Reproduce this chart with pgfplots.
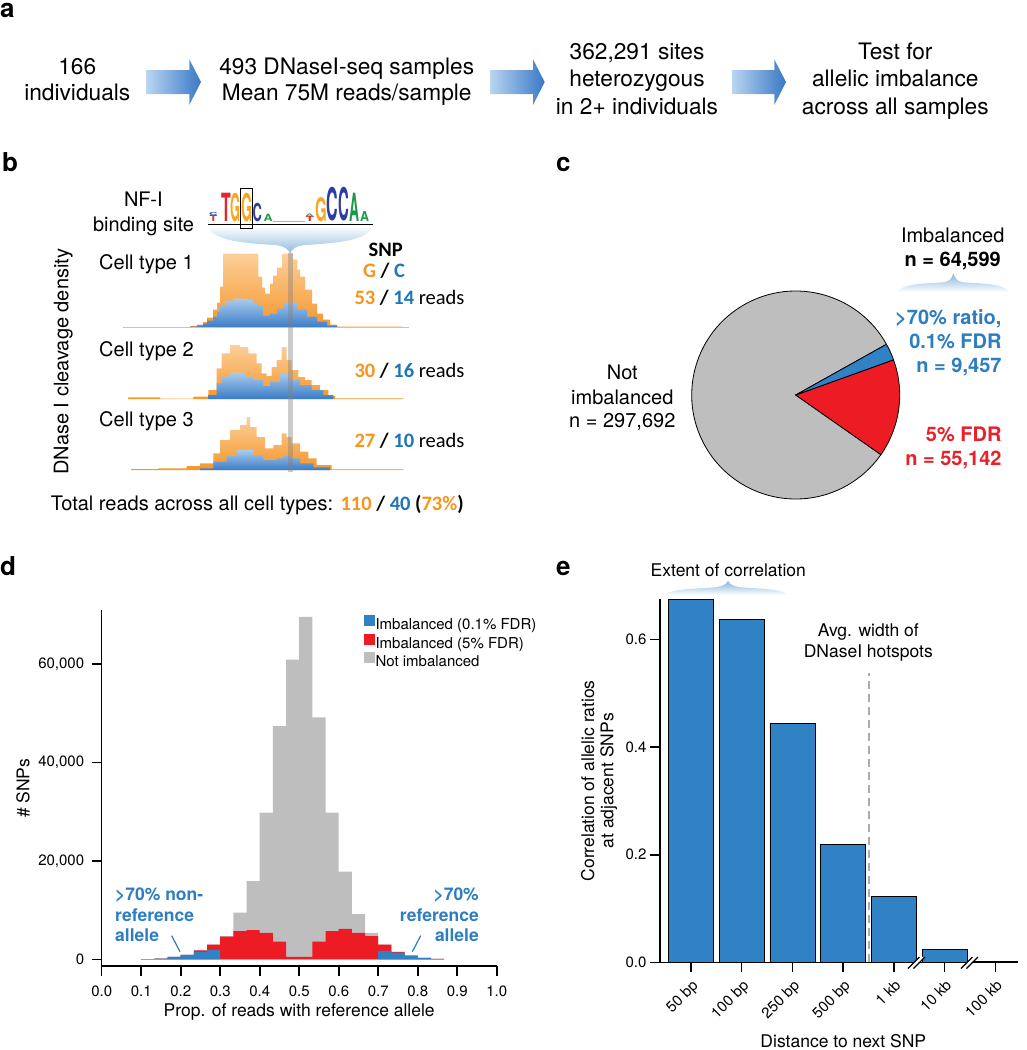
\documentclass[border=0pt]{standalone}
\usepackage{graphicx}
\usepackage{pgfplots}
\pgfplotsset{compat=1.18}
\usepackage{fontspec}
\setmainfont{TeX Gyre Heros}
\setsansfont{TeX Gyre Heros}
\newfontfamily\carl{Carlito}
\usetikzlibrary{shadings}
\definecolor{cblue}{HTML}{3182C4}
\definecolor{cred}{HTML}{ED1C24}
\definecolor{cgray}{HTML}{BEBEBE}
\definecolor{torange}{HTML}{F7941D}
\definecolor{tblue}{HTML}{2C7DC1}
\definecolor{tred}{HTML}{E8202A}
\definecolor{bnum}{HTML}{1D75BC}
\definecolor{arrL}{HTML}{B8D5F0}
\definecolor{arrR}{HTML}{3A78C6}
\definecolor{oTop}{HTML}{FCCF9A}
\definecolor{oBot}{HTML}{F5962A}
\definecolor{bTop}{HTML}{A8CBEC}
\definecolor{bBot}{HTML}{3B7CC7}
\definecolor{lT}{HTML}{E4262C}
\definecolor{lG}{HTML}{F6A623}
\definecolor{lC}{HTML}{2D3DA5}
\definecolor{lA}{HTML}{1C9A48}
\newcommand\fA{\fontsize{22.7}{27}\selectfont}
\newcommand\fB{\fontsize{20}{24}\selectfont}
\newcommand\fC{\carl\fontsize{20.5}{24}\selectfont}
\newcommand\fD{\fontsize{17.5}{21}\selectfont}
\newcommand\fT{\fontsize{15}{18}\selectfont}
\newcommand\flab{\fontsize{26}{30}\selectfont\bfseries}
\newcommand\LL[6]{\node[anchor=south west, inner sep=0pt, text=#4] at (#1,-#6) {\resizebox{#2pt}{#3pt}{\bfseries #5}};}
\newcommand\barrow[3]{\shade[left color=arrL, right color=arrR] (#1,-70) -- (#2,-70) -- (#2,-59.3) -- (#3,-82) -- (#2,-105) -- (#2,-94) -- (#1,-94) -- cycle;}
\pgfplotsset{trk/.style={hide axis, scale only axis, anchor=south west, width=290pt, height=80pt, xmin=120, xmax=410, ymin=0, ymax=80, clip=false}}

\begin{document}
\begin{tikzpicture}
\tikzset{tx/.style={anchor=base, inner sep=0pt}}

% ================= panel b tracks (axes)
\begin{axis}[trk, at={(120pt,-327.7pt)}]
\addplot[draw=none, const plot, top color=oTop, bottom color=oBot] coordinates {
(130,0.6) (157,0) (163,0.6) (190,1.5) (197,3) (203,5.5) (207,10) (213,18) (217,25) (220,41) (223,74) (258.3,51) (262,40) (265,34) (270,44) (273,52) (277,60) (282,74) (293,68) (297,58) (300,51) (305,38) (312,24) (317,14) (323,8) (330,3) (337,1) (402,1)} \closedcycle;
\addplot[draw=none, const plot, top color=bTop, bottom color=bBot] coordinates {
(190,1) (197,2) (203,4) (207,7) (213,11) (217,16) (220,22) (225,27) (233,29) (247,28) (253,25) (257,22) (263,12) (270,14) (277,19) (283,25) (290,25) (297,18) (307,11) (317,6) (327,2) (337,0)} \closedcycle;
\addplot[bTop, line width=0.8pt] coordinates {(123,0) (409,0)};
\end{axis}

\begin{axis}[trk, at={(120pt,-399pt)}]
\addplot[draw=none, const plot, top color=oTop, bottom color=oBot] coordinates {
(128.3,1.7) (160,0.5) (193.3,2.3) (208.3,9) (216.7,30.7) (221.7,45.7) (230,54) (240,52) (248.3,45.7) (256.7,35.7) (261.7,25.7) (266.7,23) (271.7,32) (276.7,39) (281.7,52) (286.7,39) (291.7,29) (298.3,22) (305,19) (311.7,14) (320,9) (328.3,3) (335,0.7) (403.3,0.7)} \closedcycle;
\addplot[draw=none, const plot, top color=bTop, bottom color=bBot] coordinates {
(208.3,4) (216.7,15.7) (221.7,22.3) (230,26.3) (245,22.3) (253.3,19) (263.3,13) (270,17.3) (280,25) (290,19) (300,14) (311.7,9) (323.3,4) (333.3,0)} \closedcycle;
\end{axis}

\begin{axis}[trk, at={(120pt,-470pt)}]
\addplot[draw=none, const plot, top color=oTop, bottom color=oBot] coordinates {
(131.7,1) (158.3,1.7) (186.7,4) (200,6.7) (213.3,16.7) (220,30) (230,40) (240,45) (246.7,53) (250,43) (256.7,33) (265,21.7) (273.3,25) (281.7,36.7) (286.7,33) (291.7,26.7) (300,18.3) (308.3,11.7) (316.7,5) (331.7,0.7) (403.3,0.7)} \closedcycle;
\addplot[draw=none, const plot, top color=bTop, bottom color=bBot] coordinates {
(200,1.7) (213.3,8.3) (226.7,14) (236.7,20) (253.3,15) (263.3,10) (276.7,11.7) (283.3,14) (290,11.7) (300,6.7) (313.3,2.7) (330,0)} \closedcycle;
\end{axis}

% ================= panel c pie (axis)
% slice sizes: 297692, 9457, 55142 of 362291 (written in hundreds for pgfmath)
\pgfmathsetmacro{\ra}{-35}
\pgfmathsetmacro{\rb}{\ra+360*(551.42/3622.91)}
\pgfmathsetmacro{\rc}{\rb+360*(94.57/3622.91)}
\pgfmathsetmacro{\rd}{\ra+360}
\begin{axis}[hide axis, scale only axis, at={(795.7pt,-395pt)}, anchor=center, width=208pt, height=208pt, xmin=-1, xmax=1, ymin=-1, ymax=1, clip=false]
\filldraw[fill=cgray, draw=black, line width=0.8pt] (axis cs:0,0) -- (axis cs:{cos(\rc)},{sin(\rc)}) arc[start angle=\rc, end angle=\rd, radius=104pt] -- cycle;
\filldraw[fill=cred, draw=black, line width=0.8pt] (axis cs:0,0) -- (axis cs:{cos(\ra)},{sin(\ra)}) arc[start angle=\ra, end angle=\rb, radius=104pt] -- cycle;
\filldraw[fill=cblue, draw=black, line width=0.8pt] (axis cs:0,0) -- (axis cs:{cos(\rb)},{sin(\rb)}) arc[start angle=\rb, end angle=\rc, radius=104pt] -- cycle;
\end{axis}

% ================= panel d (axis)
\begin{axis}[
  at={(101.7pt,-966pt)}, anchor=south west, scale only axis,
  width=395pt, height=356pt,
  xmin=0, xmax=1, ymin=-1360, ymax=71000,
  axis lines=left, axis line style={-, line width=1.6pt},
  tick align=outside, major tick length=10pt,
  tick style={line width=1.6pt, black},
  xtick={0,0.1,0.2,0.3,0.4,0.5,0.6,0.7,0.8,0.9,1},
  xticklabels={0.0,0.1,0.2,0.3,0.4,0.5,0.6,0.7,0.8,0.9,1.0},
  ytick={0,20000,40000,60000},
  yticklabels={0,{20,000},{40,000},{60,000}},
  scaled y ticks=false, scaled x ticks=false,
  ticklabel style={font=\fT},
  xticklabel shift=6pt, yticklabel shift=4pt,
  clip=false,
  legend style={at={(0.6623,0.987)}, anchor=north west, draw=none, fill=none, font=\fT, row sep=1.5pt, inner sep=0pt, nodes={inner sep=1pt}, /tikz/every even column/.append style={column sep=4pt}},
  legend cell align=left,
  legend image code/.code={\fill[#1] (0pt,-1pt) rectangle (11pt,10pt);},
]
\addlegendimage{fill=cblue, draw=none}
\addlegendentry{Imbalanced (0.1\% FDR)}
\addlegendimage{fill=cred, draw=none}
\addlegendentry{Imbalanced (5\% FDR)}
\addlegendimage{fill=cgray, draw=none}
\addlegendentry{Not imbalanced}
\addplot[forget plot, fill=cgray, draw=none, ybar interval] coordinates {
(0.1000,50) (0.1333,150) (0.1667,500) (0.2000,900) (0.2333,1800) (0.2667,3000) (0.3000,4700) (0.3333,9500) (0.3667,15900) (0.4000,29800) (0.4333,47400) (0.4667,60900) (0.5000,69600) (0.5333,49200) (0.5667,29800) (0.6000,17800) (0.6333,9200) (0.6667,5400) (0.7000,3000) (0.7333,1500) (0.7667,750) (0.8000,300) (0.8333,100) (0.8667,0)};
\addplot[forget plot, fill=cred, draw=none, ybar interval] coordinates {
(0.1000,50) (0.1333,150) (0.1667,500) (0.2000,900) (0.2333,1800) (0.2667,3000) (0.3000,4600) (0.3333,5750) (0.3667,5950) (0.4000,5400) (0.4333,3600) (0.4667,500) (0.5000,500) (0.5333,3600) (0.5667,5750) (0.6000,6200) (0.6333,5400) (0.6667,4700) (0.7000,3000) (0.7333,1500) (0.7667,750) (0.8000,300) (0.8333,100) (0.8667,0)};
\addplot[forget plot, fill=cblue, draw=none, ybar interval] coordinates {
(0.1000,50) (0.1333,150) (0.1667,500) (0.2000,900) (0.2333,1500) (0.2667,1900) (0.3000,0) (0.7000,1700) (0.7333,1350) (0.7667,750) (0.8000,300) (0.8333,100) (0.8667,0)};
\end{axis}

% ================= panel e (axis)
\begin{axis}[
  at={(660pt,-962.3pt)}, anchor=south west, scale only axis,
  width=358.3pt, height=363pt,
  xmin=-0.611, xmax=6.453, ymin=0, ymax=0.675,
  axis lines=left, axis line style={-, line width=1.5pt},
  tick align=outside, major tick length=10pt,
  tick style={line width=1.5pt, black},
  xtick={0,1,2,3,4,5,6},
  xticklabels={50 bp,100 bp,250 bp,500 bp,1 kb,10 kb,100 kb},
  ytick={0,0.2,0.4,0.6},
  yticklabels={0.0,0.2,0.4,0.6},
  scaled y ticks=false,
  ticklabel style={font=\fT},
  xticklabel style={rotate=45, anchor=north east, inner sep=1pt},
  xticklabel shift=5pt,
  clip=false,
]
\addplot[gray!65, line width=2pt, dash pattern=on 8pt off 5pt] coordinates {(3.5,0) (3.5,0.538)};
\addplot[ybar, bar width=0.887, fill=cblue, draw=black, line width=0.8pt] coordinates {(0,0.675) (1,0.637) (2,0.444) (3,0.219) (4,0.123) (5,0.024) (6,0.002)};
\end{axis}

\begin{scope}[x=1pt,y=1pt]
% ================= panel a
\node[anchor=base west, inner sep=0pt, font=\flab] at (0,-17) {a};
\begin{scope}[font=\fA]
\node[tx] at (77.3,-74) {166};
\node[tx] at (77.3,-100) {individuals};
\node[tx] at (346.7,-74) {493 DNaseI-seq samples};
\node[tx] at (346.7,-100) {Mean 75M reads/sample};
\node[tx] at (637,-59.3) {362,291 sites};
\node[tx] at (637,-86.7) {heterozygous};
\node[tx] at (637,-114) {in 2+ individuals};
\node[tx] at (895.3,-59.3) {Test for};
\node[tx] at (895.3,-86.7) {allelic imbalance};
\node[tx] at (895.3,-114) {across all samples};
\end{scope}
\barrow{146.7}{189.3}{201}
\barrow{490}{533}{544.7}
\barrow{732}{774.3}{786}

% ================= panel b
\node[anchor=base west, inner sep=0pt, font=\flab] at (2,-171.7) {b};
\fill[gray, opacity=0.4] (288,-253) rectangle (292.5,-472);
\shade[top color=white, bottom color=cblue!55] (208,-226) .. controls (212,-240) and (240,-243) .. (275,-245) .. controls (284,-246) and (289,-249) .. (290,-254) .. controls (291,-249) and (296,-246) .. (305,-245) .. controls (340,-243) and (368,-240) .. (372.7,-226) -- cycle;
\LL{209}{8.5}{3}{lC}{C}{215.7}
\LL{209.5}{7.5}{6}{lT}{T}{221.7}
\LL{221}{9.7}{28.3}{lT}{T}{221.7}
\LL{230.7}{10}{28.3}{lG}{G}{221.7}
\LL{241}{11}{28.3}{lG}{G}{221.7}
\LL{252.3}{9.3}{18.3}{lC}{C}{221.7}
\LL{263.3}{9}{7.3}{lA}{A}{221.7}
\draw[gray!60, line width=0.6pt] (273,-221) -- (305,-221);
\LL{305.5}{8}{2.5}{lA}{A}{216.5}
\LL{305.5}{8.5}{5}{lT}{T}{221.7}
\LL{315}{11.7}{24}{lG}{G}{221.7}
\LL{326.7}{11.5}{33.3}{lC}{C}{221.7}
\LL{338.3}{10.7}{33.3}{lC}{C}{221.7}
\LL{349}{10}{28.3}{lA}{A}{221.7}
\LL{360}{9}{10}{lA}{A}{221.7}
\draw[line width=1pt] (240.7,-188.3) rectangle (252.7,-228.3);
\draw[line width=1.3pt] (207.7,-224.3) -- (372.7,-224.3);
\begin{scope}[font=\fB]
\node[tx] at (143.3,-206.7) {NF-I};
\node[tx] at (143.5,-231) {binding site};
\node[anchor=base west, inner sep=0pt] at (99,-269.3) {Cell type 1};
\node[anchor=base west, inner sep=0pt] at (99,-356) {Cell type 2};
\node[anchor=base west, inner sep=0pt] at (99,-426.7) {Cell type 3};
\node[rotate=90, anchor=base, inner sep=0pt] at (68.3,-361.7) {DNase I cleavage density};
\node[anchor=base west, inner sep=0pt] at (50.7,-510.7) {Total reads across all cell types: {\fC\bfseries\textcolor{torange}{110} / \textcolor{bnum}{40} (\textcolor{torange}{73\%})}};
\end{scope}
\begin{scope}[font=\fC]
\node[tx] at (385.7,-256) {\bfseries SNP};
\node[tx] at (384,-277.7) {\bfseries\textcolor{torange}{G} / \textcolor{bnum}{C}};
\node[anchor=base west, inner sep=0pt] at (354.3,-304) {\textbf{\textcolor{torange}{53} / \textcolor{bnum}{14}} reads};
\node[anchor=base west, inner sep=0pt] at (354.3,-377.3) {\textbf{\textcolor{torange}{30} / \textcolor{bnum}{16}} reads};
\node[anchor=base west, inner sep=0pt] at (354.3,-447.7) {\textbf{\textcolor{torange}{27} / \textcolor{bnum}{10}} reads};
\end{scope}

% ================= panel c
\node[anchor=base west, inner sep=0pt, font=\flab] at (556,-171.7) {c};
\begin{scope}[font=\fB]
\node[tx] at (622.3,-379.3) {Not};
\node[tx] at (622.3,-404) {imbalanced};
\node[tx] at (622.3,-427.3) {n = 297,692};
\node[tx] at (952.7,-242.7) {Imbalanced};
\node[tx] at (952.7,-266.7) {\bfseries n = 64,599};
\node[anchor=base east, inner sep=0pt, text=tblue] at (1001.7,-324) {\bfseries >70\% ratio,};
\node[anchor=base east, inner sep=0pt, text=tblue] at (1001.7,-348.3) {\bfseries 0.1\% FDR};
\node[anchor=base east, inner sep=0pt, text=tblue] at (1001.7,-372.3) {\bfseries n = 9,457};
\node[anchor=base east, inner sep=0pt, text=tred] at (1001.7,-441.7) {\bfseries 5\% FDR};
\node[anchor=base east, inner sep=0pt, text=tred] at (1001.7,-465) {\bfseries n = 55,142};
\end{scope}
\shade[top color=cblue!60, bottom color=white] (897,-292) .. controls (905,-282) and (930,-284) .. (945,-282) .. controls (950,-281) and (952,-278) .. (953.3,-273.3) .. controls (954.6,-278) and (957,-281) .. (962,-282) .. controls (977,-284) and (1002,-282) .. (1009,-292) -- cycle;

% ================= panel d
\node[anchor=base west, inner sep=0pt, font=\flab] at (0,-575) {d};
\node[rotate=90, anchor=base, inner sep=0pt, font=\fD] at (29.3,-788.3) {\# SNPs};
\node[tx, font=\fD] at (299.2,-1016.7) {Prop. of reads with reference allele};
\begin{scope}[font=\fD\bfseries, text=tblue]
\node[anchor=base west, inner sep=0pt] at (115,-900) {>70\% non-};
\node[anchor=base west, inner sep=0pt] at (115,-921) {reference};
\node[anchor=base west, inner sep=0pt] at (115,-941.7) {allele};
\node[anchor=base east, inner sep=0pt] at (479,-900) {>70\%};
\node[anchor=base east, inner sep=0pt] at (479,-921) {reference};
\node[anchor=base east, inner sep=0pt] at (479,-941.7) {allele};
\end{scope}
\draw[tblue, line width=1.2pt] (171.7,-935.7) -- (180,-951.7);
\draw[tblue, line width=1.2pt] (420.7,-935.7) -- (412.3,-951.7);

% ================= panel e
\node[anchor=base west, inner sep=0pt, font=\flab] at (556,-575) {e};
\draw[line width=1.5pt] (650,-962.3) -- (660,-962.3);
\foreach \bx in {917,970}{
  \draw[white, line width=3.5pt] (\bx-6,-968) -- (\bx+5,-956.5);
  \draw[black, line width=1.1pt] (\bx-9,-968.5) -- (\bx+2.5,-957);
  \draw[black, line width=1.1pt] (\bx-3.5,-968.5) -- (\bx+8,-957);
}
\begin{scope}[font=\fD]
\node[rotate=90, anchor=base, inner sep=0pt] at (594,-780.8) {Correlation of allelic ratios};
\node[rotate=90, anchor=base, inner sep=0pt] at (613.3,-780.8) {at adjacent SNPs};
\node[tx] at (843.3,-1047) {Distance to next SNP};
\node[tx] at (868.3,-636) {Avg. width of};
\node[tx] at (868.3,-657.3) {DNaseI hotspots};
\node[tx] at (728.3,-576) {Extent of correlation};
\end{scope}
\shade[top color=cblue!60, bottom color=white] (665,-595) .. controls (672,-588) and (700,-589) .. (717,-587) .. controls (723,-586) and (727,-584) .. (728,-580.7) .. controls (729,-584) and (733,-586) .. (739,-587) .. controls (756,-589) and (782,-588) .. (788,-595) -- cycle;

\pgfresetboundingbox
\path[use as bounding box] (0,0) rectangle (1026,-1050);
\end{scope}
\end{tikzpicture}
\end{document}
